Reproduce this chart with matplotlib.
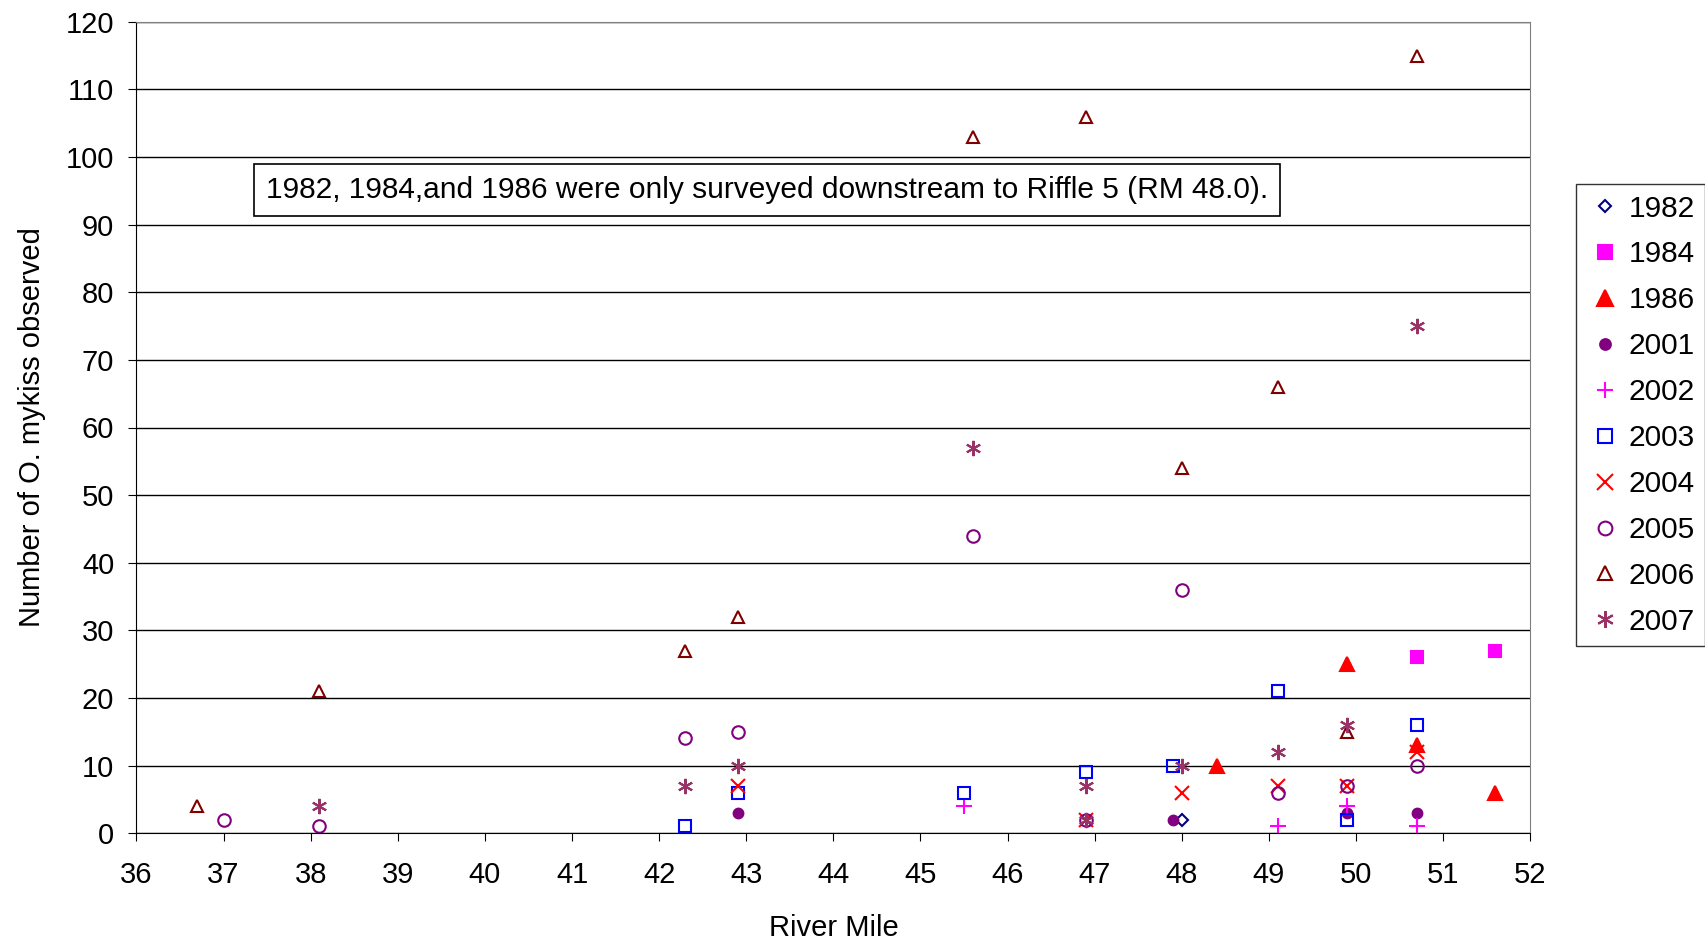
import matplotlib.pyplot as plt

plt.rcParams["font.family"] = ["Liberation Sans", "DejaVu Sans"]

# river mile / count pairs per survey year
years = ["1982", "1984", "1986", "2001", "2002", "2003", "2004", "2005", "2006", "2007"]
rm = {
    "1982": [48.0],
    "1984": [50.7, 51.6],
    "1986": [48.4, 49.9, 50.7, 51.6],
    "2001": [42.9, 47.9, 49.9, 50.7],
    "2002": [45.5, 49.1, 49.9, 50.7],
    "2003": [42.3, 42.9, 45.5, 46.9, 47.9, 49.1, 49.9, 50.7],
    "2004": [42.9, 46.9, 48.0, 49.1, 49.9, 50.7],
    "2005": [37.0, 38.1, 42.3, 42.9, 45.6, 46.9, 48.0, 49.1, 49.9, 50.7],
    "2006": [36.7, 38.1, 42.3, 42.9, 45.6, 46.9, 48.0, 49.1, 49.9, 50.7],
    "2007": [38.1, 42.3, 42.9, 45.6, 46.9, 46.9, 48.0, 49.1, 49.9, 50.7],
}
counts = {
    "1982": [2],
    "1984": [26, 27],
    "1986": [10, 25, 13, 6],
    "2001": [3, 2, 3, 3],
    "2002": [4, 1, 4, 1],
    "2003": [1, 6, 6, 9, 10, 21, 2, 16],
    "2004": [7, 2, 6, 7, 7, 12],
    "2005": [2, 1, 14, 15, 44, 2, 36, 6, 7, 10],
    "2006": [4, 21, 27, 32, 103, 106, 54, 66, 15, 115],
    "2007": [4, 7, 10, 57, 7, 2, 10, 12, 16, 75],
}
styles = {
    "1982": dict(marker="D", mfc="none", mec="#000080", ms=6),
    "1984": dict(marker="s", mfc="#FF00FF", mec="#FF00FF", ms=9),
    "1986": dict(marker="^", mfc="red", mec="red", ms=10),
    "2001": dict(marker="o", mfc="#800080", mec="#800080", ms=7),
    "2002": dict(marker="+", mfc="none", mec="#FF00FF", ms=11, mew=1.5),
    "2003": dict(marker="s", mfc="none", mec="blue", ms=9),
    "2004": dict(marker="x", mfc="none", mec="red", ms=10, mew=1.5),
    "2005": dict(marker="o", mfc="none", mec="#800080", ms=9),
    "2006": dict(marker="^", mfc="none", mec="#800000", ms=9),
    "2007": dict(marker=(6, 2, 0), mfc="none", mec="#993366", ms=11, mew=1.5),
}

fig = plt.figure(figsize=(17.06, 9.5), dpi=100)
ax = fig.add_axes([0.08, 0.123, 0.817, 0.854])
for y in years:
    st = dict(mew=1.5)
    st.update(styles[y])
    ax.plot(rm[y], counts[y], linestyle="none", label=y, clip_on=False, **st)

ax.set_xlim(36, 52)
ax.set_ylim(0, 120)
ax.set_xticks(range(36, 53))
ax.set_yticks(range(0, 121, 10))
ax.yaxis.grid(True, color="black", linewidth=1)
ax.set_axisbelow(True)
ax.tick_params(labelsize=21, direction="out", length=6)
ax.tick_params(axis="x", pad=14)
ax.tick_params(axis="y", pad=10)
for s in ["top", "right"]:
    ax.spines[s].set_color("#808080")
ax.set_xlabel("River Mile", fontsize=21, labelpad=18)
ax.set_ylabel("Number of O. mykiss observed", fontsize=21, labelpad=14)

ax.text(0.093, 0.793, "1982, 1984,and 1986 were only surveyed downstream to Riffle 5 (RM 48.0).",
        transform=ax.transAxes, fontsize=21.5, va="center",
        bbox=dict(boxstyle="square,pad=0.4", fc="white", ec="black", lw=1.2))

leg = ax.legend(loc="upper left", bbox_to_anchor=(1.033, 0.8), fontsize=21.5,
                frameon=True, fancybox=False, edgecolor="black", handletextpad=0.2,
                labelspacing=0.6, borderpad=0.35, handlelength=1.2, borderaxespad=0,
                markerscale=1.1)

fig.savefig("out.png", dpi=100)
